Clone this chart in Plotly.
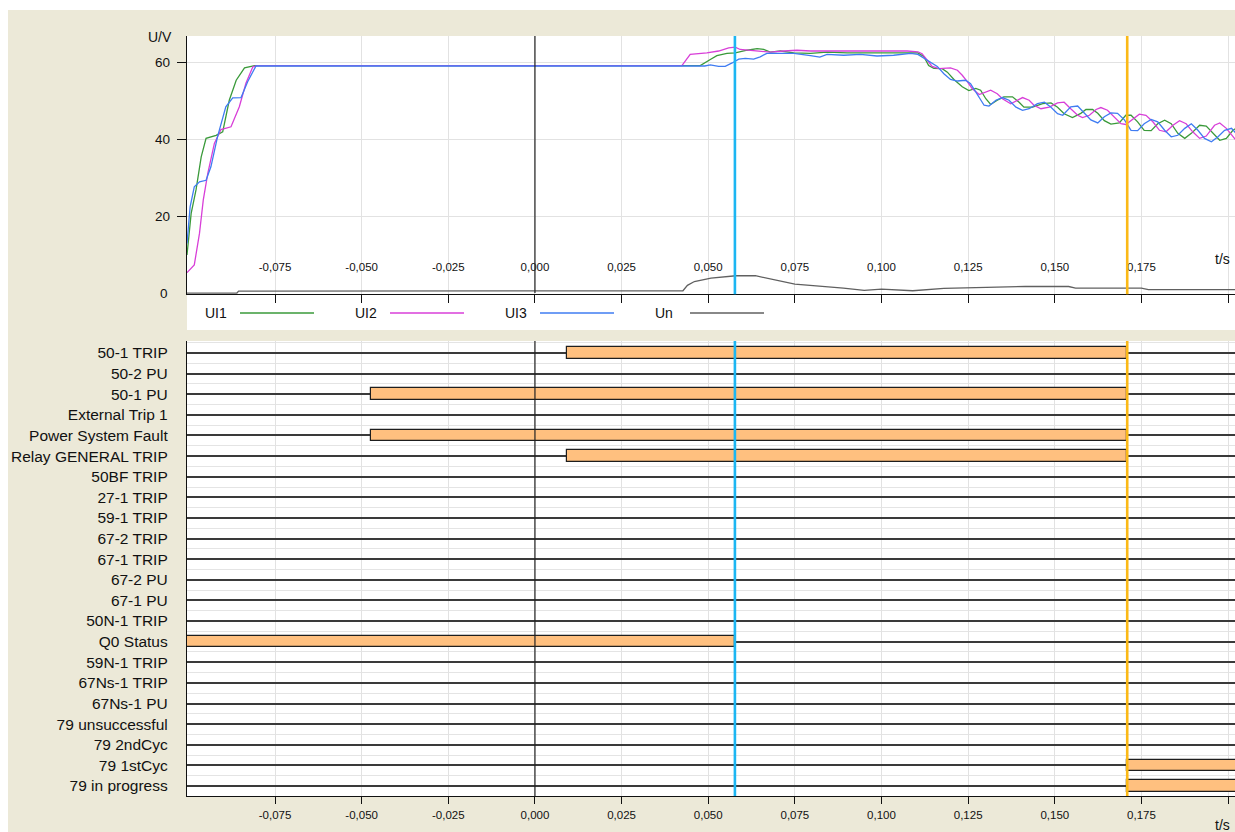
import plotly.graph_objects as go

# time window of the record (s)
T_START, T_END = -0.1004, 0.2020

# cursor positions (s)
CURSOR_BLUE = 0.0577
CURSOR_ORANGE = 0.1709

# analog traces: (t in s, U in V)
UI1 = [(-0.1004, 9.9), (-0.0992, 20.7), (-0.0978, 26.8), (-0.0963, 35.4), (-0.0949, 40.2),
       (-0.0920, 41.0), (-0.0901, 41.9), (-0.0882, 50.1), (-0.0862, 55.3), (-0.0838, 58.5),
       (-0.0809, 59.1), (0.0477, 59.1), (0.0506, 60.7), (0.0525, 61.7), (0.0554, 62.3),
       (0.0578, 62.4), (0.0612, 63.1), (0.0641, 63.5), (0.0660, 63.3), (0.0679, 62.6),
       (0.0708, 62.9), (0.0747, 62.4), (0.0795, 62.3), (0.0843, 62.6), (0.0901, 62.4),
       (0.0958, 62.4), (0.1017, 62.4), (0.1074, 62.4), (0.1105, 62.4), (0.1122, 61.5),
       (0.1136, 59.1), (0.1151, 58.4), (0.1175, 58.3), (0.1190, 57.4), (0.1209, 55.5),
       (0.1233, 53.6), (0.1252, 52.6), (0.1272, 53.2), (0.1286, 52.7), (0.1301, 50.5),
       (0.1315, 49.0), (0.1334, 50.1), (0.1353, 51.0), (0.1378, 51.0), (0.1397, 49.6),
       (0.1411, 48.3), (0.1436, 48.3), (0.1465, 49.2), (0.1489, 49.4), (0.1508, 48.3),
       (0.1527, 46.6), (0.1551, 45.6), (0.1575, 46.7), (0.1590, 47.7), (0.1609, 47.7),
       (0.1624, 46.7), (0.1643, 44.8), (0.1662, 43.9), (0.1686, 44.2), (0.1705, 46.2),
       (0.1720, 46.2), (0.1739, 44.5), (0.1758, 42.3), (0.1778, 42.2), (0.1797, 44.0),
       (0.1817, 44.9), (0.1836, 44.0), (0.1855, 41.5), (0.1875, 40.2), (0.1894, 41.5),
       (0.1918, 43.6), (0.1937, 43.4), (0.1956, 41.5), (0.1976, 39.7), (0.1995, 40.2),
       (0.2014, 42.3), (0.2023, 42.8)]

UI2 = [(-0.1004, 5.3), (-0.0983, 7.3), (-0.0968, 15.5), (-0.0957, 24.2), (-0.0944, 31.1),
       (-0.0925, 38.9), (-0.0906, 42.5), (-0.0877, 43.2), (-0.0853, 48.4), (-0.0834, 54.5),
       (-0.0814, 58.8), (-0.0800, 59.1), (0.0424, 59.1), (0.0448, 62.0), (0.0496, 62.4),
       (0.0530, 62.9), (0.0559, 63.7), (0.0578, 63.9), (0.0592, 63.3), (0.0617, 63.1),
       (0.0650, 62.9), (0.0679, 62.6), (0.0718, 62.9), (0.0756, 63.1), (0.0795, 62.9),
       (0.0843, 62.9), (0.0901, 62.9), (0.0958, 62.9), (0.1017, 62.9), (0.1074, 62.9),
       (0.1105, 62.7), (0.1117, 62.2), (0.1132, 60.5), (0.1146, 58.9), (0.1166, 58.3),
       (0.1199, 58.5), (0.1219, 57.9), (0.1233, 56.6), (0.1248, 54.9), (0.1262, 53.1),
       (0.1282, 51.6), (0.1301, 52.3), (0.1315, 52.7), (0.1334, 51.8), (0.1349, 50.5),
       (0.1373, 49.2), (0.1392, 50.1), (0.1407, 50.8), (0.1426, 50.1), (0.1440, 48.8),
       (0.1460, 47.9), (0.1484, 48.3), (0.1508, 49.4), (0.1527, 49.6), (0.1546, 47.9),
       (0.1566, 46.2), (0.1580, 45.6), (0.1600, 46.2), (0.1619, 47.7), (0.1633, 48.2),
       (0.1652, 47.5), (0.1672, 45.8), (0.1691, 44.0), (0.1705, 43.8), (0.1725, 45.1),
       (0.1744, 46.5), (0.1763, 46.2), (0.1783, 44.5), (0.1802, 42.3), (0.1821, 41.9),
       (0.1841, 43.6), (0.1860, 44.8), (0.1879, 44.0), (0.1898, 41.9), (0.1918, 40.2),
       (0.1937, 40.8), (0.1961, 43.6), (0.1976, 44.2), (0.1995, 42.8), (0.2014, 40.6),
       (0.2023, 39.7)]

UI3 = [(-0.1004, 12.9), (-0.0995, 22.4), (-0.0983, 27.6), (-0.0968, 28.9), (-0.0949, 29.3),
       (-0.0935, 32.8), (-0.0916, 40.6), (-0.0892, 48.4), (-0.0872, 50.7), (-0.0848, 50.8),
       (-0.0829, 54.9), (-0.0805, 59.0), (0.0490, 59.0), (0.0506, 59.3), (0.0530, 58.9),
       (0.0549, 58.9), (0.0569, 59.8), (0.0588, 60.8), (0.0607, 61.0), (0.0631, 60.8),
       (0.0650, 61.4), (0.0669, 62.3), (0.0698, 62.3), (0.0747, 62.3), (0.0795, 61.7),
       (0.0822, 61.3), (0.0843, 62.0), (0.0891, 61.8), (0.0939, 62.0), (0.0987, 61.6),
       (0.1035, 61.8), (0.1084, 62.3), (0.1105, 62.0), (0.1127, 60.7), (0.1146, 59.6),
       (0.1161, 58.9), (0.1180, 57.0), (0.1199, 55.5), (0.1219, 55.1), (0.1243, 55.3),
       (0.1257, 54.4), (0.1276, 51.8), (0.1296, 48.8), (0.1310, 48.6), (0.1330, 50.1),
       (0.1349, 50.8), (0.1368, 50.1), (0.1388, 48.3), (0.1407, 47.5), (0.1426, 47.9),
       (0.1450, 49.2), (0.1470, 49.6), (0.1489, 48.3), (0.1508, 46.6), (0.1523, 46.2),
       (0.1546, 48.4), (0.1566, 48.6), (0.1585, 46.8), (0.1604, 45.0), (0.1624, 44.2),
       (0.1643, 45.8), (0.1662, 46.8), (0.1681, 46.7), (0.1701, 45.0), (0.1720, 42.3),
       (0.1739, 42.2), (0.1758, 44.0), (0.1778, 45.1), (0.1797, 44.5), (0.1817, 42.3),
       (0.1836, 40.6), (0.1855, 41.0), (0.1875, 42.8), (0.1894, 44.0), (0.1913, 42.3),
       (0.1932, 40.2), (0.1952, 39.3), (0.1971, 40.6), (0.1990, 42.3), (0.2010, 42.8),
       (0.2023, 41.5)]

UN = [(-0.1004, 0.0), (-0.0860, 0.0), (-0.0855, 0.5), (0.0427, 0.6), (0.0440, 2.0),
      (0.0460, 3.0), (0.0508, 3.9), (0.0580, 4.5), (0.0636, 4.5), (0.0700, 3.3),
      (0.0750, 2.3), (0.0890, 1.3), (0.0950, 0.7), (0.1000, 1.0), (0.1090, 0.6),
      (0.1180, 1.2), (0.1415, 1.7), (0.1540, 1.7), (0.1560, 1.3), (0.1750, 1.3),
      (0.1770, 0.9), (0.2023, 0.9)]

SERIES_NAMES = ["UI1", "UI2", "UI3", "Un"]
SERIES_COLORS = ["#3A9A3A", "#D83FD8", "#3F7CF2", "#606060"]

# binary signals, top to bottom
SIGNALS = ["50-1 TRIP", "50-2 PU", "50-1 PU", "External Trip 1", "Power System Fault",
           "Relay GENERAL TRIP", "50BF TRIP", "27-1 TRIP", "59-1 TRIP", "67-2 TRIP",
           "67-1 TRIP", "67-2 PU", "67-1 PU", "50N-1 TRIP", "Q0 Status", "59N-1 TRIP",
           "67Ns-1 TRIP", "67Ns-1 PU", "79 unsuccessful", "79 2ndCyc", "79 1stCyc",
           "79 in progress"]

BAR_SIGNAL = ["50-1 TRIP", "50-1 PU", "Power System Fault", "Relay GENERAL TRIP",
              "Q0 Status", "79 1stCyc", "79 in progress"]
BAR_START = [0.0092, -0.0473, -0.0473, 0.0092, -0.1004, 0.1709, 0.1709]
BAR_END = [0.1709, 0.1709, 0.1709, 0.1709, 0.0577, 0.2040, 0.2040]

TICKS = [-0.075, -0.050, -0.025, 0.0, 0.025, 0.050, 0.075, 0.100, 0.125, 0.150, 0.175, 0.200]
TICK_TEXT = ["-0,075", "-0,050", "-0,025", "0,000", "0,025", "0,050", "0,075", "0,100",
             "0,125", "0,150", "0,175", ""]
U_TICKS = [20, 40, 60]

W, H = 1235, 832
BEIGE = "#ECE9D8"
FONT = "Liberation Sans"


def px(x):
    return x / W


def py(y):
    return 1 - y / H


fig = go.Figure()

for name, color, data in zip(SERIES_NAMES, SERIES_COLORS, [UI1, UI2, UI3, UN]):
    fig.add_trace(go.Scatter(
        x=[p[0] for p in data], y=[p[1] for p in data],
        mode="lines", name=name, line=dict(color=color, width=1.3),
        xaxis="x", yaxis="y", showlegend=False,
    ))

rows = [SIGNALS.index(s) for s in BAR_SIGNAL]
fig.add_trace(go.Bar(
    y=rows, base=BAR_START, x=[e - s for s, e in zip(BAR_START, BAR_END)],
    orientation="h", width=0.56,
    marker=dict(color="#FFC07F", line=dict(color="#1E1E1E", width=1.2)),
    xaxis="x2", yaxis="y2", showlegend=False,
))

shapes = [
    # white page border at top and left
    dict(type="rect", xref="paper", yref="paper", x0=0, x1=1, y0=py(10), y1=1,
         fillcolor="white", line=dict(width=0), layer="below"),
    dict(type="rect", xref="paper", yref="paper", x0=0, x1=px(8), y0=0, y1=1,
         fillcolor="white", line=dict(width=0), layer="below"),
    # white legend strip under the analog plot
    dict(type="rect", xref="paper", yref="paper", x0=px(187), x1=1, y0=py(330), y1=py(294),
         fillcolor="white", line=dict(width=0), layer="below"),
    dict(type="line", xref="x", yref="y", x0=0, x1=0, y0=0, y1=66.8,
         line=dict(color="#222", width=1.2)),
    dict(type="line", xref="x2", yref="y2 domain", x0=0, x1=0, y0=0, y1=1,
         line=dict(color="#222", width=1.2)),
]
for t, color in [(CURSOR_BLUE, "#1CB6F2"), (CURSOR_ORANGE, "#FBB917")]:
    shapes.append(dict(type="line", xref="x", yref="y domain", x0=t, x1=t, y0=0, y1=1,
                       line=dict(color=color, width=2.6)))
    shapes.append(dict(type="line", xref="x2", yref="y2 domain", x0=t, x1=t, y0=0, y1=1,
                       line=dict(color=color, width=2.6)))

text_font = dict(size=14, color="#111", family=FONT)
annotations = [
    dict(text="U/V", x=px(160), y=py(37), xref="paper", yref="paper", showarrow=False,
         xanchor="center", yanchor="middle", font=text_font),
    dict(text="0", x=px(170), y=0, xref="paper", yref="y", xanchor="right",
         yanchor="middle", showarrow=False, font=dict(size=13.5, color="#111", family=FONT)),
    dict(text="t/s", x=px(1222), y=py(259), xref="paper", yref="paper", showarrow=False,
         xanchor="center", yanchor="middle", font=text_font),
    dict(text="t/s", x=px(1222), y=py(825), xref="paper", yref="paper", showarrow=False,
         xanchor="center", yanchor="middle", font=text_font),
]

# legend: name followed by a line sample
for i, (name, color) in enumerate(zip(SERIES_NAMES, SERIES_COLORS)):
    x0 = 203 + 150 * i
    annotations.append(dict(text=name, x=px(x0), y=py(313), xref="paper", yref="paper",
                            xanchor="left", yanchor="middle", showarrow=False,
                            font=text_font))
    shapes.append(dict(type="line", xref="paper", yref="paper", x0=px(x0 + 37),
                       x1=px(x0 + 111), y0=py(313), y1=py(313),
                       line=dict(color=color, width=1.5)))

axis_font = dict(size=11.5, color="#111", family=FONT)
grid = "#E2E2E2"

fig.update_layout(
    width=W, height=H,
    margin=dict(l=0, r=0, t=0, b=0),
    paper_bgcolor=BEIGE, plot_bgcolor="white",
    font=dict(family=FONT),
    bargap=0,
    xaxis=dict(domain=[px(187), 1], range=[T_START, T_END], anchor="y",
               tickmode="array", tickvals=TICKS, ticktext=TICK_TEXT,
               ticklabelposition="inside", ticklabelstandoff=20,
               ticks="outside", ticklen=8, tickcolor="#111", tickwidth=1.2,
               showgrid=True, gridcolor=grid, zeroline=False,
               showline=True, linecolor="#111", linewidth=1.3, tickfont=axis_font),
    yaxis=dict(domain=[py(294.2), py(36)], range=[-0.3, 66.8], anchor="x",
               tickmode="array", tickvals=U_TICKS, ticks="outside", ticklen=9,
               tickcolor="#111", tickwidth=1.2, ticklabelstandoff=4,
               showgrid=True, gridcolor=grid, zeroline=False,
               showline=True, linecolor="#111", linewidth=1.3,
               tickfont=dict(size=13.5, color="#111", family=FONT)),
    xaxis2=dict(domain=[px(187), 1], range=[T_START, T_END], anchor="y2",
                tickmode="array", tickvals=TICKS, ticktext=TICK_TEXT,
                ticks="outside", ticklen=7, tickcolor="#111", tickwidth=1.2,
                ticklabelstandoff=1,
                showgrid=True, gridcolor=grid, zeroline=False,
                showline=True, linecolor="#111", linewidth=1.3, tickfont=axis_font),
    yaxis2=dict(domain=[py(796), py(341)], range=[21.485, -0.582], anchor="x2",
                tickmode="array", tickvals=list(range(len(SIGNALS))), ticktext=SIGNALS,
                ticks="", ticklabelstandoff=15,
                showgrid=True, gridcolor="#3A3A3A", gridwidth=1.5, zeroline=False,
                minor=dict(tick0=0.5, dtick=1, showgrid=True, gridcolor="#E4E4E4",
                           gridwidth=1),
                showline=True, linecolor="#111", linewidth=1.3,
                tickfont=dict(size=15.5, color="#111", family=FONT)),
    shapes=shapes,
    annotations=annotations,
)

# drop the default 8px body margin so the figure fills the window exactly
fig.write_html("out.html", config={"displayModeBar": False},
               post_script="document.body.style.margin='0';")
